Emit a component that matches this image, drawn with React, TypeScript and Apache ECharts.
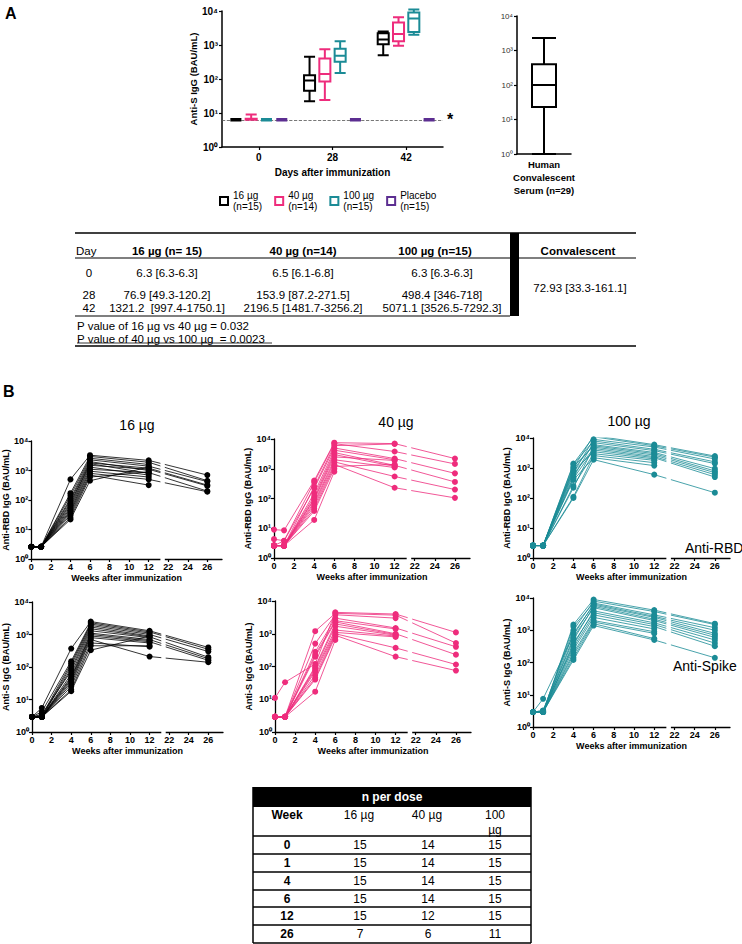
import React, { useEffect, useRef } from 'react';
import * as echarts from 'echarts';

const FONT = '"Liberation Sans", Arial, Helvetica, sans-serif';
const BLACK = '#000000';
const PINK = '#EE2C7C';
const TEAL = '#1B8B96';
const PURPLE = '#5C2E91';

// ---------- Panel A data ----------
const DAYS = ['0', '28', '42'];
const GROUPS = ['16 µg', '40 µg', '100 µg', 'Placebo'];
const GROUP_N = ['(n=15)', '(n=14)', '(n=15)', '(n=15)'];
// [min, Q1, median, Q3, max]
const BOX_16 = [[6.3, 6.3, 6.3, 6.3, 6.3], [22, 45, 90, 130, 450], [500, 1050, 1450, 2200, 2500]];
const BOX_40 = [[6.3, 6.3, 6.5, 6.8, 9], [24, 85, 140, 400, 750], [950, 1300, 2100, 4600, 6500]];
const BOX_100 = [[6.3, 6.3, 6.3, 6.3, 6.3], [150, 320, 480, 780, 1300], [2000, 2400, 6000, 9000, 11000]];
const BOX_PLACEBO = [[6.3, 6.3, 6.3, 6.3, 6.3], [6.3, 6.3, 6.3, 6.3, 6.3], [6.3, 6.3, 6.3, 6.3, 6.3]];
const LLOQ = 6.3;
const CONV_LABEL = 'Human\nConvalescent\nSerum (n=29)';
const BOX_CONV = [[1, 23, 100, 400, 2300]];

// ---------- Table A ----------
const TABLE_HEAD = ['Day', '16 µg (n= 15)', '40 µg (n=14)', '100 µg (n=15)', 'Convalescent'];
const TABLE_DAYS = ['0', '28', '42'];
const TABLE_16 = ['6.3 [6.3-6.3]', '76.9 [49.3-120.2]', '1321.2  [997.4-1750.1]'];
const TABLE_40 = ['6.5 [6.1-6.8]', '153.9 [87.2-271.5]', '2196.5 [1481.7-3256.2]'];
const TABLE_100 = ['6.3 [6.3-6.3]', '498.4 [346-718]', '5071.1 [3526.5-7292.3]'];
const TABLE_CONV = '72.93 [33.3-161.1]';
const P_VALUES = ['P value of 16 µg vs 40 µg = 0.032', 'P value of 40 µg vs 100 µg  = 0.0023'];

// ---------- Panel B data ----------
const WEEKS = [0, 1, 4, 6, 12, 26];
const WEEK_TICKS = [0, 2, 4, 6, 8, 10, 12, 22, 24, 26];
const BREAK_AFTER = 12;
const BREAK_SHIFT = 8;

// each row: one participant at weeks 0, 1, 4, 6, 12, 26 (null = not sampled)
const RBD_16 = [
  [2.6, 2.6, 500, 3300, 2200, 700],
  [2.6, 2.6, 170, 3000, 1900, 450],
  [2.6, 2.6, 140, 2600, 1600, null],
  [2.6, 2.6, 110, 2300, 1400, 420],
  [2.6, 2.6, 95, 2000, 1000, null],
  [2.6, 2.6, 80, 1800, 1200, 320],
  [2.6, 2.6, 70, 1700, 800, null],
  [2.6, 2.6, 60, 1500, 1100, 300],
  [2.6, 2.6, 52, 1300, 700, null],
  [2.6, 2.6, 45, 1100, 850, 200],
  [2.6, 2.6, 40, 950, 600, null],
  [2.6, 2.6, 35, 800, 500, 190],
  [2.6, 2.6, 30, 700, 320, null],
  [2.6, 2.6, 25, 600, 900, null],
  [2.6, 2.6, 22, 450, 1300, null],
];
const RBD_40 = [
  [9, 8.5, 400, 7500, 7000, 2200],
  [4.3, 3.8, 350, 7000, 3800, 1450],
  [2.6, 2.6, 250, 6000, 6800, null],
  [2.6, 3.8, 220, 5000, 2200, 700],
  [2.6, 2.6, 150, 4200, 2000, null],
  [2.6, 2.6, 120, 3500, 1300, 360],
  [2.6, 2.6, 100, 3000, 1200, null],
  [2.6, 2.6, 90, 2500, 1900, null],
  [2.6, 2.6, 75, 2000, 1100, null],
  [2.6, 2.6, 65, 1700, 550, 200],
  [2.6, 2.6, 55, 1400, 230, 105],
  [2.6, 2.6, 45, 1200, 1400, null],
  [2.6, 2.6, 38, 1000, null, null],
  [2.6, 2.6, 19, 800, null, null],
];
const RBD_100 = [
  [2.6, 2.6, 1000, 12000, 6000, 2500],
  [2.6, 2.6, 1400, 11000, 5500, 2300],
  [2.6, 2.6, 700, 9000, 5000, 2000],
  [2.6, 2.6, 1300, 8000, 4200, 1600],
  [2.6, 2.6, 500, 7000, 3800, 1400],
  [2.6, 2.6, 900, 6000, 3300, 950],
  [2.6, 2.6, 1100, 5500, 3000, 800],
  [2.6, 2.6, 220, 5000, 2700, 700],
  [2.6, 2.6, 600, 4500, 2400, 600],
  [2.6, 2.6, 450, 4000, 2200, 500],
  [2.6, 2.6, 800, 3500, 2000, null],
  [2.6, 2.6, 250, 3000, 1800, null],
  [2.6, 2.6, 110, 2600, 1500, null],
  [2.6, 2.6, 400, 2200, 1200, null],
  [2.6, 2.6, 100, 1900, 600, 150],
];
const S_16 = [
  [2.9, 5.5, 370, 2500, 1300, 400],
  [2.9, 4.2, 150, 2300, 1200, 350],
  [2.9, 3.2, 130, 2100, 1100, null],
  [2.9, 2.9, 110, 1900, 1000, 300],
  [2.9, 2.9, 90, 1700, 900, null],
  [2.9, 3.5, 75, 1500, 850, 200],
  [2.9, 2.9, 60, 1300, 800, null],
  [2.9, 2.9, 50, 1100, 700, 180],
  [2.9, 2.9, 45, 1000, 650, null],
  [2.9, 2.9, 40, 900, 600, 160],
  [2.9, 2.9, 35, 800, 550, null],
  [2.9, 2.9, 30, 700, 210, 140],
  [2.9, 2.9, 25, 550, 420, null],
  [2.9, 2.9, 20, 450, 450, null],
  [2.9, 2.9, 18, 330, 900, null],
];
const S_40 = [
  [11, 33, 120, 4500, 4000, 1100],
  [2.9, 2.9, 1200, 4200, 3700, 520],
  [2.9, 2.9, 500, 3800, 3000, null],
  [2.9, 2.9, 280, 3000, 1500, 400],
  [2.9, 2.9, 230, 2500, 1400, null],
  [2.9, 2.9, 200, 2300, 1000, 230],
  [2.9, 2.9, 100, 2000, 950, null],
  [2.9, 2.9, 90, 1700, 900, null],
  [2.9, 2.9, 80, 1300, 850, null],
  [2.9, 2.9, 70, 1100, 800, null],
  [2.9, 2.9, 55, 1000, 370, 115],
  [2.9, 2.9, 45, 900, 200, 75],
  [2.9, 2.9, 40, 800, null, null],
  [2.9, 2.9, 17, 650, null, null],
];
const S_100 = [
  [2.9, 2.9, 1500, 9000, 4200, 1600],
  [2.9, 3.2, 1000, 8000, 3800, 1500],
  [2.9, 2.9, 1300, 7000, 3000, 1200],
  [2.9, 7.5, 700, 6500, 2700, 1000],
  [2.9, 2.9, 800, 6000, 2500, 800],
  [2.9, 3.2, 500, 5500, 2200, 700],
  [2.9, 2.9, 600, 5000, 2000, 600],
  [2.9, 2.9, 350, 4000, 1700, 500],
  [2.9, 2.9, 400, 3500, 1500, 400],
  [2.9, 3.2, 300, 3000, 1300, 320],
  [2.9, 2.9, 250, 2500, 1100, null],
  [2.9, 2.9, 200, 2000, 900, null],
  [2.9, 2.9, 170, 1800, 800, null],
  [2.9, 2.9, 140, 1600, 550, null],
  [2.9, 2.9, 120, 1400, 500, 140],
];

// ---------- n per dose table ----------
const N_WEEKS = ['0', '1', '4', '6', '12', '26'];
const N_16 = [15, 15, 15, 15, 15, 7];
const N_40 = [14, 14, 14, 14, 12, 6];
const N_100 = [15, 15, 15, 15, 15, 11];

// ---------- helpers ----------
const SUP = ['⁰', '¹', '²', '³', '⁴', '⁵'];
const powLabel = (v: number) => '10' + SUP[Math.round(Math.log10(v))];
const toAxis = (w: number) => (w > BREAK_AFTER ? w - BREAK_SHIFT : w);
const fromAxis = (v: number) => (v > BREAK_AFTER ? v + BREAK_SHIFT : v);

const txt = (x: number, y: number, text: string, o: any = {}) => ({
  type: 'text',
  x,
  y,
  silent: true,
  z: 50,
  style: {
    text,
    fontFamily: FONT,
    fontSize: o.size ?? 11.5,
    fontWeight: o.bold ? 'bold' : 'normal',
    fill: o.color ?? '#000',
    align: o.align ?? 'center',
    textAlign: o.align ?? 'center',
    verticalAlign: 'middle',
    textVerticalAlign: 'middle',
  },
});
const hline = (x1: number, x2: number, y: number, w = 1) => ({
  type: 'line',
  silent: true,
  z: 50,
  shape: { x1, y1: y, x2, y2: y },
  style: { stroke: '#000', lineWidth: w },
});
const vline = (x: number, y1: number, y2: number, w = 1) => ({
  type: 'line',
  silent: true,
  z: 50,
  shape: { x1: x, y1, x2: x, y2 },
  style: { stroke: '#000', lineWidth: w },
});
const rect = (x: number, y: number, width: number, height: number, fill = '#000') => ({
  type: 'rect',
  silent: true,
  z: 49,
  shape: { x, y, width, height },
  style: { fill },
});

function buildOption() {
  const axisLine = { show: true, lineStyle: { color: '#000', width: 1.3 } };
  const axisTick = { show: true, length: 3, lineStyle: { color: '#000', width: 1.2 } };

  const grids: any[] = [
    { left: 222, top: 11, width: 221, height: 136 },
    { left: 517, top: 16, width: 54, height: 138 },
  ];
  const xAxes: any[] = [
    {
      type: 'category', gridIndex: 0, data: DAYS,
      axisLine: { ...axisLine, lineStyle: { color: '#000', width: 1.5 } },
      axisTick: { ...axisTick, alignWithLabel: true },
      axisLabel: { fontFamily: FONT, fontSize: 10, fontWeight: 'bold', color: '#000', margin: 5 },
      name: 'Days after immunization', nameLocation: 'middle', nameGap: 20,
      nameTextStyle: { fontFamily: FONT, fontSize: 10, fontWeight: 'bold', color: '#000' },
    },
    {
      type: 'category', gridIndex: 1, data: [CONV_LABEL],
      axisLine: { ...axisLine, lineStyle: { color: '#000', width: 1.5 } },
      axisTick: { show: false },
      axisLabel: { fontFamily: FONT, fontSize: 9.5, fontWeight: 'bold', color: '#000', margin: 4, lineHeight: 13, interval: 0 },
    },
  ];
  const yAxes: any[] = [
    {
      type: 'log', logBase: 10, gridIndex: 0, min: 1, max: 10000,
      axisLine: { ...axisLine, lineStyle: { color: '#000', width: 1.5 } }, axisTick,
      splitLine: { show: false }, minorTick: { show: false },
      axisLabel: { fontFamily: FONT, fontSize: 10, fontWeight: 'bold', color: '#000', margin: 4, formatter: powLabel },
      name: 'Anti-S IgG (BAU/mL)', nameLocation: 'middle', nameGap: 24, nameRotate: 90,
      nameTextStyle: { fontFamily: FONT, fontSize: 9.5, fontWeight: 'bold', color: '#000' },
    },
    {
      type: 'log', logBase: 10, gridIndex: 1, min: 1, max: 10000,
      axisLine: { ...axisLine, lineStyle: { color: '#000', width: 1.5 } }, axisTick,
      splitLine: { show: false },
      axisLabel: { fontFamily: FONT, fontSize: 8, color: '#333', margin: 4, formatter: powLabel },
    },
  ];

  const colors = [BLACK, PINK, TEAL, PURPLE];
  const boxes = [BOX_16, BOX_40, BOX_100, BOX_PLACEBO];
  const series: any[] = boxes.map((b, i) => ({
    type: 'boxplot', name: GROUPS[i], xAxisIndex: 0, yAxisIndex: 0,
    // flat (all-equal) boxes are drawn as thick bars like in the original
    data: b.map((v) => (v[0] === v[4] ? { value: v, itemStyle: { borderWidth: 3.5 } } : v)),
    silent: true,
    itemStyle: { color: '#fff', borderColor: colors[i], borderWidth: 2 },
    ...(i === 3
      ? {
          markLine: {
            silent: true, symbol: 'none', data: [{ yAxis: LLOQ }],
            lineStyle: { type: 'dashed', color: '#555', width: 0.8 },
            label: { show: true, position: 'end', formatter: '*', fontSize: 16, fontWeight: 'bold', color: '#000', distance: 4, fontFamily: FONT },
            z: 1,
          },
        }
      : {}),
  }));
  series.push({
    type: 'boxplot', name: 'Convalescent', xAxisIndex: 1, yAxisIndex: 1, data: BOX_CONV,
    silent: true, boxWidth: [24, 24],
    itemStyle: { color: '#fff', borderColor: '#000', borderWidth: 2 },
  });

  const panels = [
    { data: RBD_16, color: BLACK, grid: { left: 31, top: 441, width: 191, height: 118 }, yName: 'Anti-RBD IgG (BAU/mL)' },
    { data: RBD_40, color: PINK, grid: { left: 274, top: 439, width: 196, height: 119 }, yName: 'Anti-RBD IgG (BAU/mL)' },
    { data: RBD_100, color: TEAL, grid: { left: 533, top: 438, width: 197, height: 120 }, yName: 'Anti-RBD IgG (BAU/mL)' },
    { data: S_16, color: BLACK, grid: { left: 32, top: 602, width: 191, height: 130 }, yName: 'Anti-S IgG (BAU/mL)' },
    { data: S_40, color: PINK, grid: { left: 275, top: 601, width: 196, height: 131 }, yName: 'Anti-S IgG (BAU/mL)' },
    { data: S_100, color: TEAL, grid: { left: 533, top: 598, width: 197, height: 129 }, yName: 'Anti-S IgG (BAU/mL)' },
  ];
  const tickPos = WEEK_TICKS.map(toAxis);
  panels.forEach((p, k) => {
    const idx = k + 2;
    grids.push(p.grid);
    xAxes.push({
      type: 'value', gridIndex: idx, min: 0, max: 19.5,
      axisLine, axisTick: { ...axisTick, customValues: tickPos },
      splitLine: { show: false },
      axisLabel: {
        customValues: tickPos, fontFamily: FONT, fontSize: 9, fontWeight: 'bold', color: '#000', margin: 3,
        formatter: (v: number) => String(fromAxis(v)),
      },
      name: 'Weeks after immunization', nameLocation: 'middle', nameGap: 14,
      nameTextStyle: { fontFamily: FONT, fontSize: 9, fontWeight: 'bold', color: '#000' },
    });
    yAxes.push({
      type: 'log', logBase: 10, gridIndex: idx, min: 1, max: 10000,
      axisLine, axisTick, splitLine: { show: false },
      axisLabel: { fontFamily: FONT, fontSize: 9, fontWeight: 'bold', color: '#000', margin: 3, formatter: powLabel },
      name: p.yName, nameLocation: 'middle', nameGap: 18, nameRotate: 90,
      nameTextStyle: { fontFamily: FONT, fontSize: 9, fontWeight: 'bold', color: '#000' },
    });
    p.data.forEach((row, s) => {
      const pts: number[][] = [];
      row.forEach((v, i) => {
        if (v !== null && v !== undefined) pts.push([toAxis(WEEKS[i]), v as number]);
      });
      series.push({
        type: 'line', name: `p${k}-s${s}`, xAxisIndex: idx, yAxisIndex: idx, data: pts,
        symbol: 'circle', symbolSize: 6, silent: true,
        lineStyle: { color: p.color, width: 0.8 }, itemStyle: { color: p.color },
      });
    });
    // white gap marking the axis break
    series.push({
      type: 'custom', xAxisIndex: idx, yAxisIndex: idx, z: 5, silent: true, clip: false,
      data: [[BREAK_AFTER + 1.2, BREAK_AFTER + 1.65]],
      renderItem: (params: any, api: any) => {
        const a = api.coord([api.value(0), 10000]);
        const b = api.coord([api.value(1), 1]);
        return {
          type: 'rect',
          shape: { x: a[0], y: a[1] - 2, width: b[0] - a[0], height: b[1] - a[1] + 4 },
          style: { fill: '#fff' },
        };
      },
    });
  });

  // ---------- graphic: labels and tables ----------
  const g: any[] = [];
  g.push(txt(5, 13, 'A', { bold: true, size: 16, align: 'left' }));
  g.push(txt(3, 391, 'B', { bold: true, size: 16, align: 'left' }));
  g.push(txt(137, 425, GROUPS[0], { size: 14 }));
  g.push(txt(396, 422, GROUPS[1], { size: 14 }));
  g.push(txt(629, 421, GROUPS[2], { size: 14 }));
  g.push(txt(685, 548, 'Anti-RBD', { size: 14, align: 'left' }));
  g.push(txt(673, 666, 'Anti-Spike', { size: 14, align: 'left' }));

  // Table A
  const L = 75, R = 636;
  g.push(hline(L, R, 233, 1.5));
  g.push(hline(L, R, 258, 1.2));
  g.push(hline(L, 510, 316, 1.2));
  g.push(hline(77, 272, 343, 0.8));
  g.push(hline(L, R, 346, 1.5));
  g.push(rect(510, 233, 9, 83));
  g.push(txt(76, 251, TABLE_HEAD[0], { align: 'left' }));
  g.push(txt(167, 251, TABLE_HEAD[1], { bold: true }));
  g.push(txt(303, 251, TABLE_HEAD[2], { bold: true }));
  g.push(txt(435, 251, TABLE_HEAD[3], { bold: true }));
  g.push(txt(578, 251, TABLE_HEAD[4], { bold: true }));
  const rowY = [273, 295, 308];
  TABLE_DAYS.forEach((d, i) => {
    g.push(txt(89, rowY[i], d));
    g.push(txt(167, rowY[i], TABLE_16[i]));
    g.push(txt(303, rowY[i], TABLE_40[i]));
    g.push(txt(442, rowY[i], TABLE_100[i]));
  });
  g.push(txt(580, 288, TABLE_CONV));
  g.push(txt(77, 326, P_VALUES[0], { align: 'left' }));
  g.push(txt(77, 339, P_VALUES[1], { align: 'left' }));

  // n per dose table
  const TL = 253, TR = 531;
  g.push(rect(TL, 787, TR - TL, 20));
  g.push(txt((TL + TR) / 2, 797, 'n per dose', { bold: true, color: '#fff', size: 12 }));
  g.push(vline(TL, 787, 943, 1.5));
  g.push(vline(TR, 787, 943, 1.5));
  g.push(txt(287, 815, 'Week', { bold: true, size: 12 }));
  g.push(txt(359, 815, GROUPS[0], { size: 12 }));
  g.push(txt(427, 815, GROUPS[1], { size: 12 }));
  g.push(txt(495, 815, '100', { size: 12 }));
  g.push(txt(495, 830, 'µg', { size: 12 }));
  [836, 854, 872, 890, 907, 925, 943].forEach((y) => g.push(hline(TL, TR, y, 1.5)));
  const nRowY = [845, 863, 881, 899, 916, 934];
  N_WEEKS.forEach((w, i) => {
    g.push(txt(287, nRowY[i], w, { bold: true, size: 12 }));
    g.push(txt(360, nRowY[i], String(N_16[i]), { size: 12 }));
    g.push(txt(428, nRowY[i], String(N_40[i]), { size: 12 }));
    g.push(txt(495, nRowY[i], String(N_100[i]), { size: 12 }));
  });

  return {
    animation: false,
    backgroundColor: '#fff',
    textStyle: { fontFamily: FONT },
    grid: grids,
    xAxis: xAxes,
    yAxis: yAxes,
    legend: {
      left: 214, top: 185, orient: 'horizontal', itemGap: 12, itemWidth: 8, itemHeight: 8,
      icon: 'rect', selectedMode: false,
      data: GROUPS.map((name, i) => ({ name, itemStyle: { color: '#fff', borderColor: colors[i], borderWidth: 2 } })),
      formatter: (name: string) => name + '\n' + GROUP_N[GROUPS.indexOf(name)],
      textStyle: { fontFamily: FONT, fontSize: 10, lineHeight: 11, color: '#000' },
    },
    series,
    graphic: g,
  };
}

export default function App() {
  const ref = useRef<HTMLDivElement>(null);
  useEffect(() => {
    if (!ref.current) return;
    const chart = echarts.init(ref.current, null, { renderer: 'svg' });
    chart.setOption(buildOption() as any);
    return () => chart.dispose();
  }, []);
  return (
    <div
      ref={ref}
      style={{ position: 'absolute', left: 0, top: 0, width: 742, height: 944, background: '#fff' }}
    />
  );
}
